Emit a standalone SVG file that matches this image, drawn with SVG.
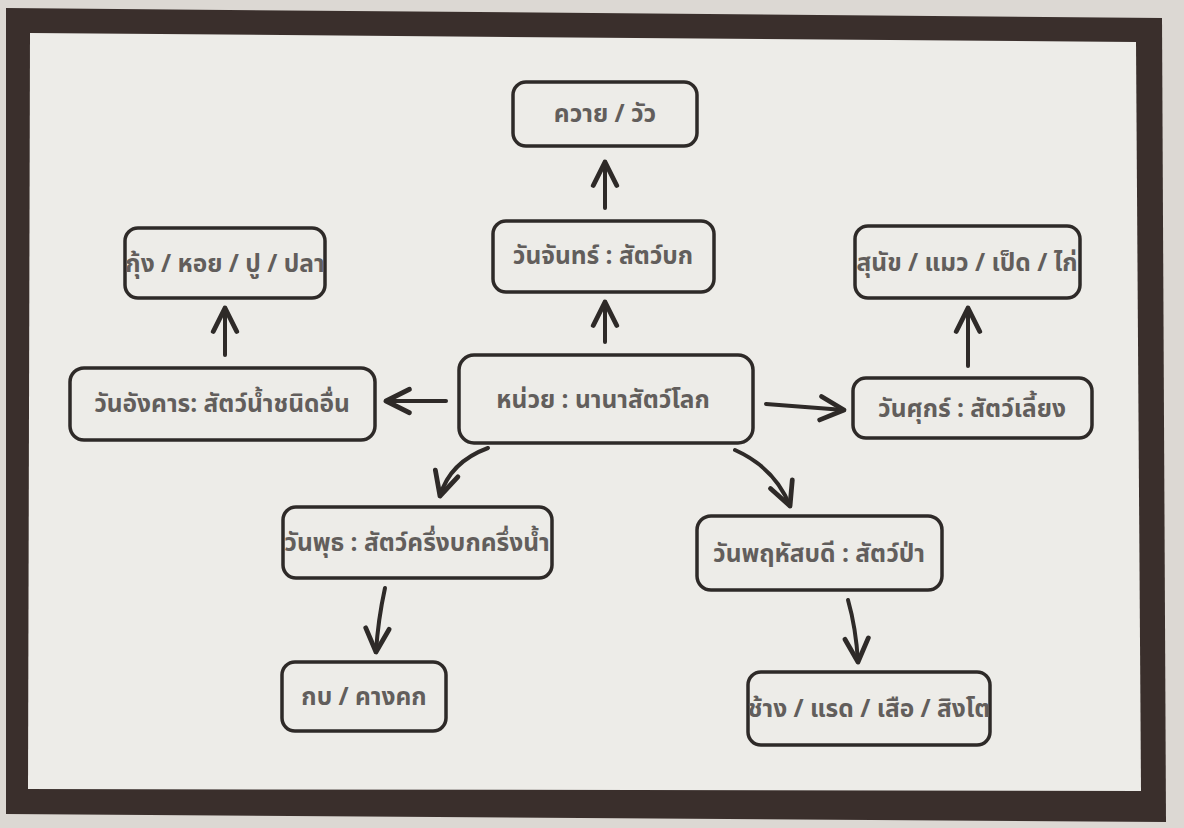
<svg xmlns="http://www.w3.org/2000/svg" width="1184" height="828" viewBox="0 0 1184 828">
<defs>
<style>
.box{fill:#edece8;stroke:#2e2a28;stroke-width:3.5}
.t{font-family:"Noto Sans Thai","Noto Sans","DejaVu Sans",sans-serif;font-size:24.5px;font-weight:bold;fill:#625e5c;text-anchor:middle;dominant-baseline:central}
.c{fill:none;stroke:#2e2a28;stroke-width:4;stroke-linecap:round;marker-end:url(#ah)}
</style>
<marker id="ah" viewBox="0 0 30 30" refX="26" refY="15" markerWidth="32" markerHeight="32" markerUnits="userSpaceOnUse" orient="auto">
<path d="M4,4 L26,15 L4,26" fill="none" stroke="#2e2a28" stroke-width="4.5" stroke-linecap="round" stroke-linejoin="round"/>
</marker>
</defs>
<rect width="1184" height="828" fill="#dcd8d3"/>
<path d="M6,8 L1162,18 L1166,822 L6,814 Z" fill="#3a2f2c"/>
<path d="M30,33 L1136,42 L1141,791 L28,789 Z" fill="#edece8"/>
<g id="connectors">
<path class="c" d="M605,208 L605,162"/>
<path class="c" d="M605,342 L605,302"/>
<path class="c" d="M225,355 L225,308"/>
<path class="c" d="M968,366 L968,308"/>
<path class="c" d="M446,401 L386,401"/>
<path class="c" d="M766,404 L844,410"/>
<path class="c" d="M488,448 Q450,462 440,496"/>
<path class="c" d="M735,450 Q775,468 790,506"/>
<path class="c" d="M385,588 Q378,620 376,652"/>
<path class="c" d="M848,600 Q856,628 858,662"/>
</g>
<g id="n1"><rect class="box" x="513" y="82" width="184" height="64" rx="13"/><text class="t" x="605" y="114">ควาย / วัว</text></g>
<g id="n2"><rect class="box" x="493" y="221" width="221" height="71" rx="13"/><text class="t" x="603" y="256">วันจันทร์ : สัตว์บก</text></g>
<g id="n3"><rect class="box" x="125" y="228" width="200" height="70" rx="13"/><text class="t" x="225" y="264">กุ้ง / หอย / ปู / ปลา</text></g>
<g id="n4"><rect class="box" x="855" y="226" width="225" height="72" rx="13"/><text class="t" x="967" y="263">สุนัข / แมว / เป็ด / ไก่</text></g>
<g id="n5"><rect class="box" x="70" y="368" width="305" height="72" rx="14"/><text class="t" x="222" y="404">วันอังคาร: สัตว์น้ำชนิดอื่น</text></g>
<g id="n6"><rect class="box" x="459" y="355" width="294" height="88" rx="15"/><text class="t" x="603" y="400">หน่วย : นานาสัตว์โลก</text></g>
<g id="n7"><rect class="box" x="853" y="378" width="239" height="60" rx="13"/><text class="t" x="972" y="409">วันศุกร์ : สัตว์เลี้ยง</text></g>
<g id="n8"><rect class="box" x="283" y="507" width="269" height="71" rx="13"/><text class="t" x="417" y="543">วันพุธ : สัตว์ครึ่งบกครึ่งน้ำ</text></g>
<g id="n9"><rect class="box" x="697" y="516" width="245" height="74" rx="14"/><text class="t" x="819" y="554">วันพฤหัสบดี : สัตว์ป่า</text></g>
<g id="n10"><rect class="box" x="282" y="662" width="164" height="69" rx="13"/><text class="t" x="364" y="697">กบ / คางคก</text></g>
<g id="n11"><rect class="box" x="748" y="672" width="242" height="73" rx="13"/><text class="t" x="869" y="709">ช้าง / แรด / เสือ / สิงโต</text></g>
</svg>
